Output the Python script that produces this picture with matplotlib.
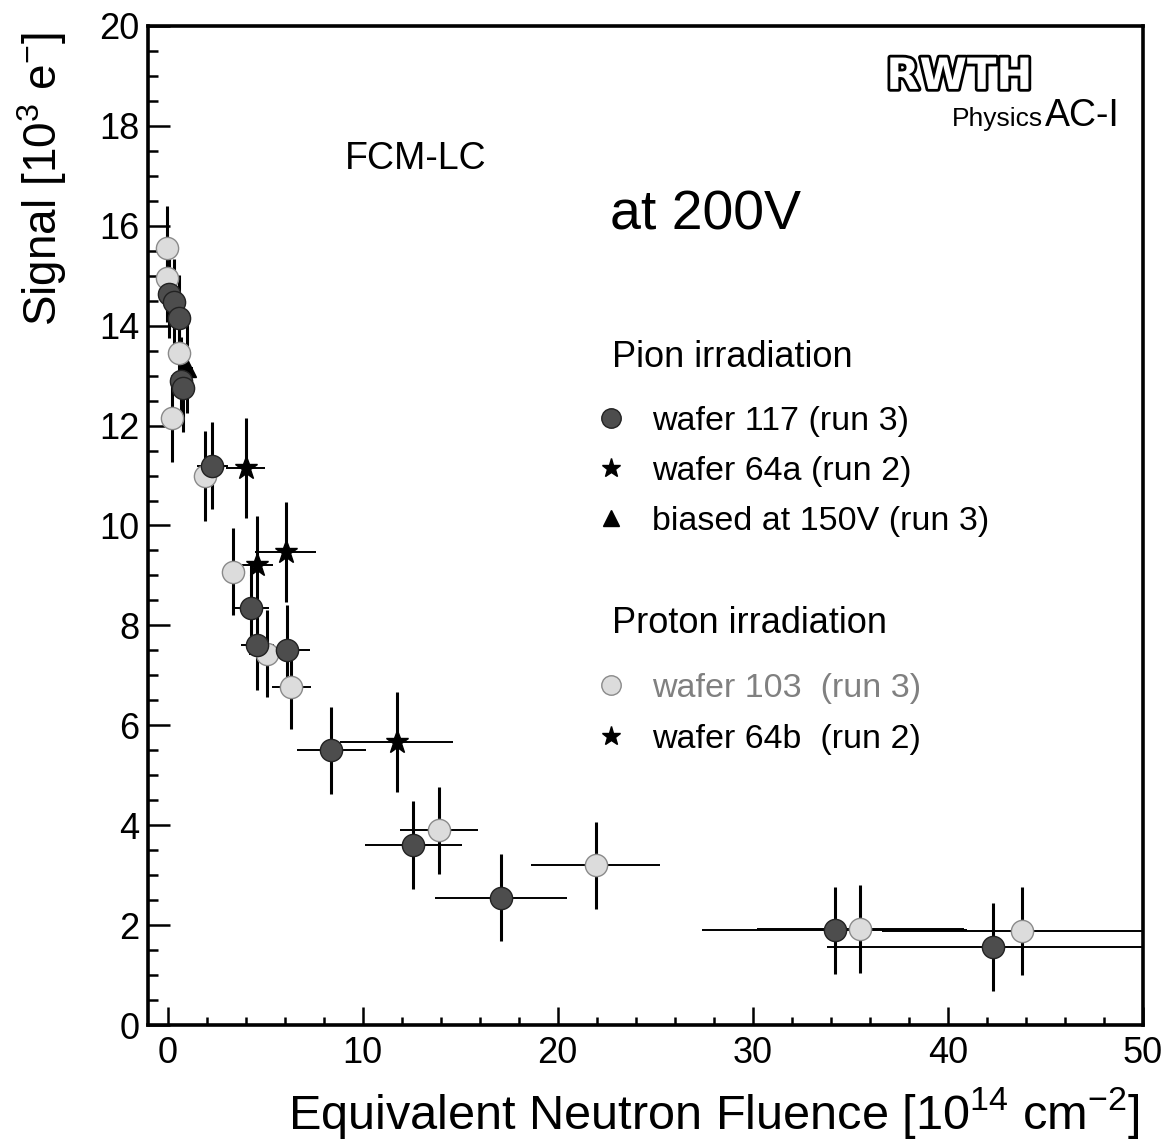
import matplotlib
matplotlib.use("Agg")
import matplotlib.pyplot as plt
import matplotlib.patheffects as pe
from matplotlib.lines import Line2D
from matplotlib.ticker import MultipleLocator

plt.rcParams["font.family"] = ["Liberation Sans", "DejaVu Sans"]
plt.rcParams["mathtext.fontset"] = "custom"
plt.rcParams["mathtext.rm"] = "Liberation Sans"
plt.rcParams["mathtext.it"] = "Liberation Sans"

# pion irradiation, wafer 117 (run 3)
x117 = [0.1, 0.35, 0.6, 0.7, 0.8, 2.3, 4.3, 4.6, 6.1, 8.4, 12.6, 17.1, 34.2, 42.3]
y117 = [14.63, 14.47, 14.15, 12.9, 12.75, 11.2, 8.35, 7.6, 7.5, 5.5, 3.6, 2.55, 1.9, 1.56]
xe117 = [0.2, 0.2, 0.3, 0.3, 0.3, 0.8, 0.9, 0.85, 1.2, 1.75, 2.5, 3.4, 6.8, 8.5]
ye117 = [0.87, 0.87, 0.87, 0.87, 0.87, 0.87, 0.9, 0.9, 0.9, 0.87, 0.88, 0.87, 0.87, 0.88]

# pion irradiation, wafer 64a (run 2)
x64a = [4.0, 6.05]
y64a = [11.15, 9.47]
xe64a = [1.0, 1.55]
ye64a = [1.0, 1.0]

# pion irradiation, biased at 150V (run 3)
xtri = [1.0]
ytri = [13.15]
xetri = [0.3]
yetri = [0.9]

# proton irradiation, wafer 103 (run 3)
x103 = [-0.05, -0.05, 0.25, 0.6, 1.9, 3.35, 5.1, 6.35, 13.9, 21.95, 35.5, 43.8]
y103 = [15.55, 14.95, 12.15, 13.45, 11.0, 9.07, 7.43, 6.77, 3.9, 3.2, 1.92, 1.88]
xe103 = [0.2, 0.2, 0.3, 0.3, 0.5, 0.5, 0.9, 1.0, 2.0, 3.3, 5.3, 7.2]
ye103 = [0.85, 0.87, 0.87, 0.87, 0.9, 0.87, 0.87, 0.85, 0.87, 0.87, 0.88, 0.88]

# proton irradiation, wafer 64b (run 2)
x64b = [4.6, 11.75]
y64b = [9.2, 5.67]
xe64b = [0.8, 2.9]
ye64b = [1.0, 1.0]

DARK = "#4d4d4d"
LIGHT = "#dcdcdc"


def draw(ax, x, y, xe, ye, **mk):
    # thin horizontal bars, thicker vertical bars, then the marker on top
    ax.errorbar(x, y, xerr=xe, fmt="none", ecolor="black", elinewidth=1.4, zorder=2)
    ax.errorbar(x, y, yerr=ye, fmt="none", ecolor="black", elinewidth=2.2, zorder=2)
    ax.plot(x, y, linestyle="none", zorder=3, **mk)


fig = plt.figure(figsize=(11.72, 11.44), dpi=100)
ax = fig.add_axes([0.1263, 0.104, 0.849, 0.8733])

mk117 = dict(marker="o", markersize=16, markerfacecolor=DARK, markeredgecolor="#222222", markeredgewidth=1.0)
mk103 = dict(marker="o", markersize=16, markerfacecolor=LIGHT, markeredgecolor="#8a8a8a", markeredgewidth=1.0)
mkstar = dict(marker="*", markersize=17, color="black")
mktri = dict(marker="^", markersize=13, color="black")

draw(ax, xtri, ytri, xetri, yetri, **mktri)
draw(ax, x103, y103, xe103, ye103, **mk103)
draw(ax, x117, y117, xe117, ye117, **mk117)
draw(ax, x64a, y64a, xe64a, ye64a, **mkstar)
draw(ax, x64b, y64b, xe64b, ye64b, **mkstar)

ax.set_xlim(-1, 50)
ax.set_ylim(0, 20)
ax.xaxis.set_major_locator(MultipleLocator(10))
ax.xaxis.set_minor_locator(MultipleLocator(2))
ax.yaxis.set_major_locator(MultipleLocator(2))
ax.yaxis.set_minor_locator(MultipleLocator(0.5))
ax.tick_params(which="both", direction="in", labelsize=26, width=1.8)
ax.tick_params(axis="y", which="major", length=16, pad=6)
ax.tick_params(axis="y", which="minor", length=7)
ax.tick_params(axis="x", which="major", length=13, pad=8)
ax.tick_params(axis="x", which="minor", length=6)
for s in ax.spines.values():
    s.set_linewidth(2.6)

fig.text(42 / 1172, 1 - 32 / 1144, r"Signal [10$^{3}$ e$^{-}$]", fontsize=33,
         rotation=90, ha="center", va="top")
fig.text(1140 / 1172, 1 - 1113 / 1144, r"Equivalent Neutron Fluence [10$^{14}$ cm$^{-2}$]",
         fontsize=35, ha="right", va="center")

ax.text(0.198, 0.867, "FCM-LC", transform=ax.transAxes, fontsize=27, va="center")
ax.text(0.464, 0.81, "at 200V", transform=ax.transAxes, fontsize=40, va="center")

# RWTH logo
ax.text(0.742, 0.949, "RWTH", transform=ax.transAxes, fontsize=31, fontweight="bold",
        family="DejaVu Sans", color="white", va="center",
        path_effects=[pe.withStroke(linewidth=4, foreground="black")])
fig.text(1043 / 1172, 1 - 126 / 1144, "Physics", fontsize=19, ha="right", va="baseline")
fig.text(1045 / 1172, 1 - 126 / 1144, "AC-I", fontsize=27, ha="left", va="baseline")

# legend group titles
ax.text(0.466, 0.668, "Pion irradiation", transform=ax.transAxes, fontsize=26, va="center")
ax.text(0.466, 0.402, "Proton irradiation", transform=ax.transAxes, fontsize=26, va="center")

pion_h = [Line2D([], [], linestyle="none", **dict(mk117, markersize=14)),
          Line2D([], [], linestyle="none", **dict(mkstar, markersize=14)),
          Line2D([], [], linestyle="none", **dict(mktri, markersize=12))]
pion_l = ["wafer 117 (run 3)", "wafer 64a (run 2)", "biased at 150V (run 3)"]
leg1 = ax.legend(pion_h, pion_l, loc="upper left", bbox_to_anchor=(0.448, 0.620),
                 frameon=False, fontsize=24.5, borderpad=0, borderaxespad=0,
                 handlelength=1.0, handletextpad=0.7, labelspacing=0.57)
ax.add_artist(leg1)

prot_h = [Line2D([], [], linestyle="none", **dict(mk103, markersize=14)),
          Line2D([], [], linestyle="none", **dict(mkstar, markersize=14))]
prot_l = ["wafer 103  (run 3)", "wafer 64b  (run 2)"]
leg2 = ax.legend(prot_h, prot_l, loc="upper left", bbox_to_anchor=(0.448, 0.352),
                 frameon=False, fontsize=24.5, borderpad=0, borderaxespad=0,
                 handlelength=1.0, handletextpad=0.7, labelspacing=0.57)
leg2.get_texts()[0].set_color("#808080")

fig.savefig("out.png", dpi=100)
